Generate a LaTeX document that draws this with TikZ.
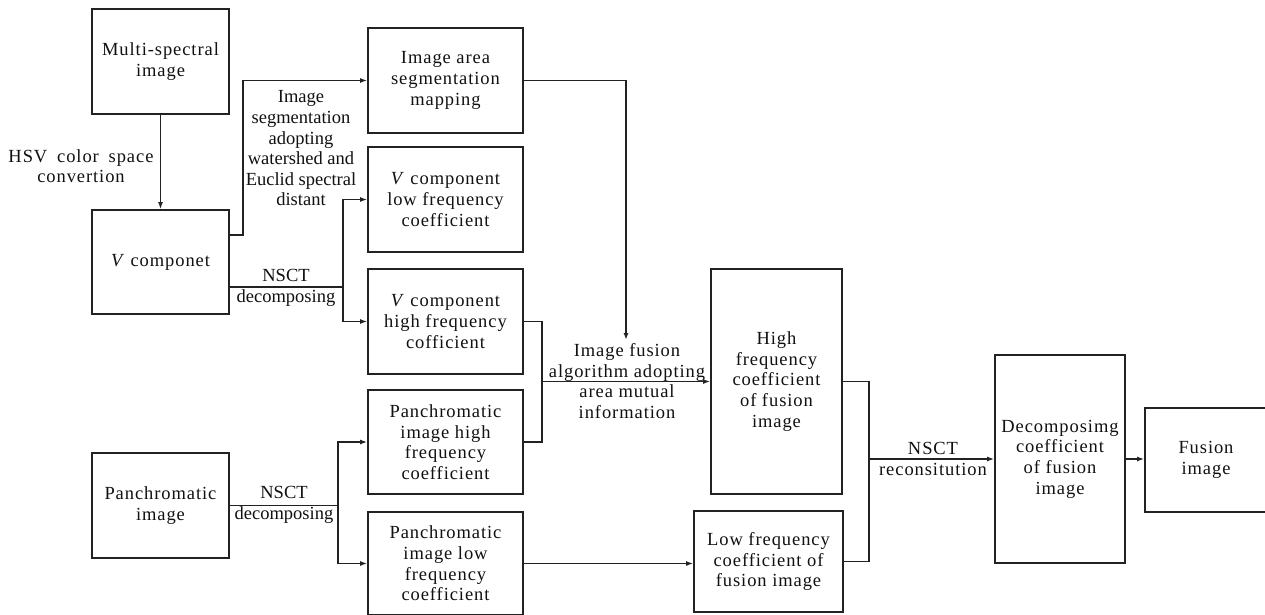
\documentclass[tikz,border=0pt]{standalone}
\usepackage{fontspec}
\setmainfont{Liberation Serif}[LetterSpace=5]
\newfontfamily\tightfont{Liberation Serif}
\usetikzlibrary{arrows.meta}
\definecolor{linec}{HTML}{222222}
\definecolor{textc}{HTML}{111111}
\tikzset{
  txt/.style={font=\fontsize{18.5}{20.6}\selectfont, text=textc, align=center, inner sep=0pt},
  box/.style={txt, draw=linec, line width=1.8pt, rectangle},
  lbl/.style={txt},
  tlbl/.style={txt, font=\tightfont\fontsize{18.5}{20.6}\selectfont},
  ln/.style={draw=linec, line width=1.4pt},
  arr/.style={ln, -{Latex[length=7pt,width=5pt]}},
}
\begin{document}
\begin{tikzpicture}[x=1pt,y=-1pt]
\useasboundingbox (0,0) rectangle (1265,614);
\fill[white] (0,0) rectangle (1265,614);
% boxes
\node[box,minimum width=137pt,minimum height=105pt] (ms) at (160.5,61.5) {Multi-spectral\\image};
\node[box,minimum width=137pt,minimum height=104pt] (vc) at (160.5,262) {\textit{V} componet};
\node[box,minimum width=137pt,minimum height=105pt] (pan) at (160.5,505.5) {Panchromatic\\image};
\node[box,minimum width=155pt,minimum height=105pt] (seg) at (445.5,80.5) {Image area\\segmentation\\mapping};
\node[box,minimum width=155pt,minimum height=105pt] (vlow) at (445.5,199.5) {\textit{V} component\\low frequency\\coefficient};
\node[box,minimum width=155pt,minimum height=105pt] (vhigh) at (445.5,321.5) {\textit{V} component\\high frequency\\cofficient};
\node[box,minimum width=155pt,minimum height=104pt] (phigh) at (445.5,442) {Panchromatic\\image high\\frequency\\coefficient};
\node[box,minimum width=155pt,minimum height=103pt] (plow) at (445.5,563.5) {Panchromatic\\image low\\frequency\\coefficient};
\node[box,minimum width=131pt,minimum height=225pt] (hf) at (776.5,381.5) {High\\frequency\\coefficient\\of fusion\\image};
\node[box,minimum width=149pt,minimum height=101pt] (lf) at (768.5,561.5) {Low frequency\\coefficient of\\fusion image};
\node[box,minimum width=130pt,minimum height=208pt] (dec) at (1060,459) {Decomposimg\\coefficient\\of fusion\\image};
\node[box,minimum width=122pt,minimum height=104pt] (fus) at (1206,460) {Fusion\\image};
% labels
\node[lbl] (hsv) at (81,166) {\makebox[145pt][s]{HSV\hfill color\hfill space}\\convertion};
\node[tlbl] (segl) at (301,148.5) {Image\\segmentation\\adopting\\watershed and\\Euclid spectral\\distant};
\node[tlbl] (nsct1) at (286,288) {NSCT\\decomposing};
\node[tlbl] (nsct2) at (284,505) {NSCT\\decomposing};
\node[lbl] (fusl) at (627,381) {Image fusion\\algorithm adopting\\area mutual\\information};
\node[lbl] (recl) at (933,459) {NSCT\\reconsitution};
% connectors
\draw[arr] (ms) -- (vc);
\coordinate (a1) at (243,235);
\draw[arr] (vc.east |- a1) -- (a1) |- (seg.west);
\coordinate (a2) at (343,287);
\draw[ln] (vc.east |- a2) -- (a2);
\draw[arr] (a2) |- (vlow.west);
\draw[arr] (a2) |- (vhigh.west);
\coordinate (a3) at (338,505.5);
\draw[ln] (pan.east) -- (a3);
\draw[arr] (a3) |- (phigh.west);
\draw[arr] (a3) |- (plow.west);
\coordinate (a4) at (626,340);
\draw[arr] (seg.east) -| (a4);
\coordinate (a5) at (542,381.5);
\draw[ln] (vhigh.east) -| (a5);
\draw[ln] (phigh.east) -| (a5);
\draw[arr] (a5) -- (hf.west);
\draw[arr] (plow.east) -- (plow.east -| lf.west);
\coordinate (a6) at (869,459);
\draw[ln] (hf.east) -| (a6);
\draw[ln] (lf.east) -| (a6);
\draw[arr] (a6) -- (dec.west);
\draw[arr] (dec.east) -- (dec.east -| fus.west);
\end{tikzpicture}
\end{document}
